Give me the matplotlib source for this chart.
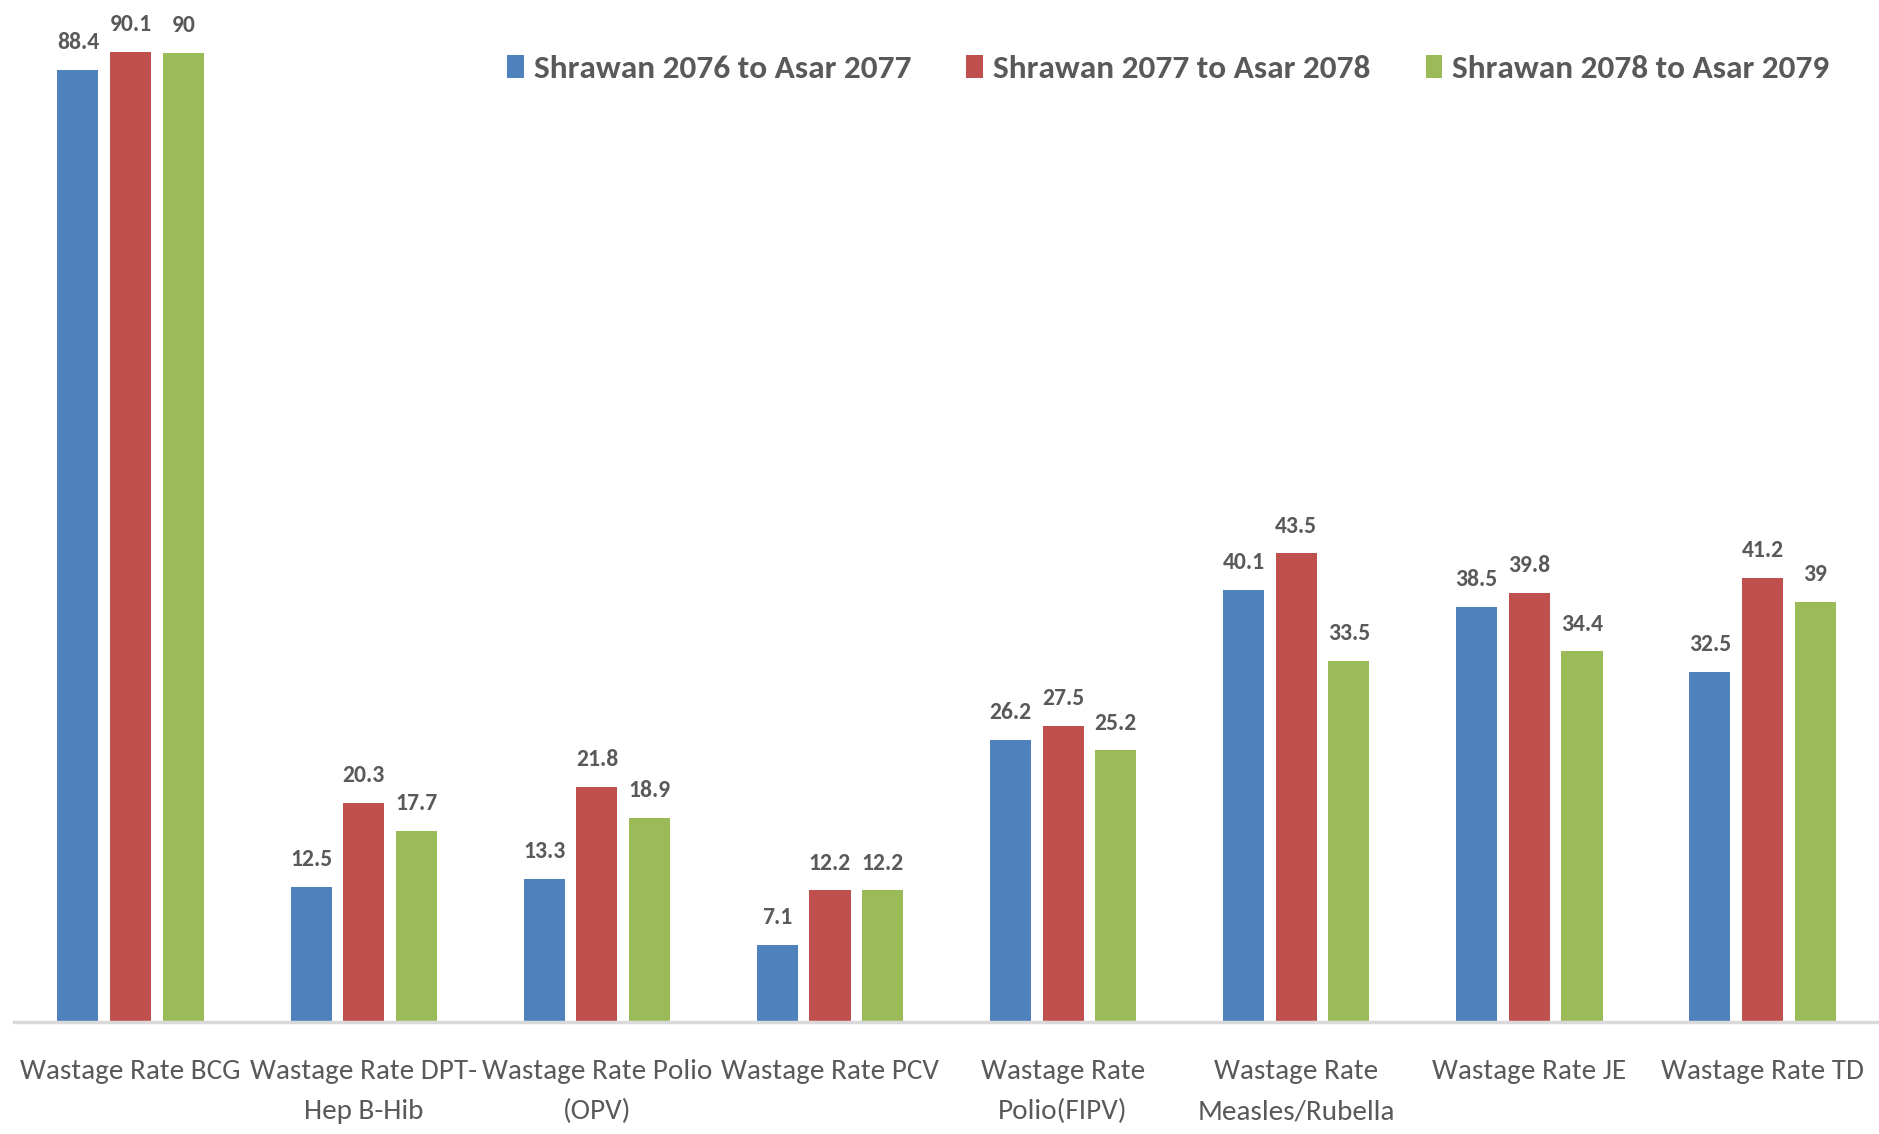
import matplotlib
matplotlib.use("Agg")
import matplotlib.pyplot as plt
import numpy as np

# categorias y valores
categorias = ["Wastage Rate BCG", "Wastage Rate DPT-\nHep B-Hib", "Wastage Rate Polio\n(OPV)",
              "Wastage Rate PCV", "Wastage Rate\nPolio(FIPV)", "Wastage Rate\nMeasles/Rubella",
              "Wastage Rate JE", "Wastage Rate TD"]
series = ["Shrawan 2076 to Asar 2077", "Shrawan 2077 to Asar 2078", "Shrawan 2078 to Asar 2079"]
v2077 = [88.4, 12.5, 13.3, 7.1, 26.2, 40.1, 38.5, 32.5]
v2078 = [90.1, 20.3, 21.8, 12.2, 27.5, 43.5, 39.8, 41.2]
v2079 = [90, 17.7, 18.9, 12.2, 25.2, 33.5, 34.4, 39]
colores = ["#4F81BD", "#C0504D", "#9BBB59"]

plt.rcParams['font.family'] = ['Carlito', 'DejaVu Sans']
gris = "#595959"

fig = plt.figure(figsize=(18.79, 11.34), dpi=100)
ax = fig.add_axes([0.0075, 0.099, 0.9925, 0.901])

x = np.arange(len(categorias))
ancho = 0.176
paso = 0.226
for i, vals in enumerate([v2077, v2078, v2079]):
    barras = ax.bar(x + (i - 1) * paso, vals, ancho, color=colores[i], label=series[i])
    for b, v in zip(barras, vals):
        ax.annotate("%g" % v, (b.get_x() + b.get_width() / 2, v), xytext=(0, 15),
                    textcoords='offset points', ha='center', va='baseline',
                    fontsize=17, fontweight='bold', color=gris)

ax.set_xlim(-0.5, len(categorias) - 0.5)
ax.set_ylim(0, 94.9)
ax.set_xticks(x)
ax.set_xticklabels(categorias, fontsize=21, color=gris, linespacing=1.75)
ax.tick_params(axis='x', length=0, pad=27)
ax.set_yticks([])
for lado in ['top', 'right', 'left']:
    ax.spines[lado].set_visible(False)
ax.spines['bottom'].set_color('#D9D9D9')
ax.spines['bottom'].set_linewidth(2.5)

leg = fig.legend(loc='center right', bbox_to_anchor=(0.9825, 0.939), ncol=3, frameon=False,
                 prop={'size': 24, 'weight': 'bold'}, handlelength=0.5, handleheight=0.65,
                 handletextpad=0.3, columnspacing=1.65, borderpad=0)
for t in leg.get_texts():
    t.set_color(gris)

plt.savefig("out.png", dpi=100)
